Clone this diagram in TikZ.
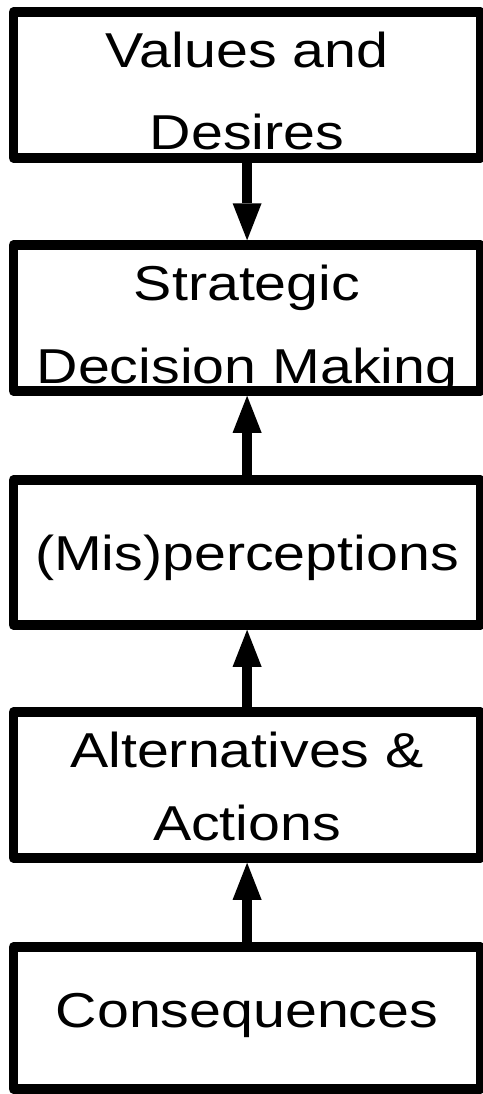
\documentclass[tikz,border=0pt]{standalone}
\usepackage{fontspec}
\setmainfont{Liberation Sans}
\newfontfamily\boxfont[FakeStretch=1.17]{Liberation Sans}
\usetikzlibrary{arrows.meta}
\begin{document}
\begin{tikzpicture}[x=1pt,y=1pt,
  stage/.style={draw=black, line width=9.5pt, line join=round,
    minimum width=467.25pt, inner sep=0pt, outer sep=4.75pt},
  caption/.style={font=\boxfont\fontsize{49}{49}\selectfont,
    anchor=base, inner sep=0pt},
  flow/.style={line width=10pt,
    -{Triangle[width=29pt,length=37pt,line width=0pt]}}
]
\useasboundingbox (0,0) rectangle (482,-1094);

% stage boxes
\node[stage, minimum height=146pt] (values)  at (247.1,-85)    {};
\node[stage, minimum height=146pt] (strat)   at (247.1,-318)   {};
\node[stage, minimum height=145pt] (percept) at (247.1,-552.5) {};
\node[stage, minimum height=146pt] (alt)     at (247.1,-785)   {};
\node[stage, minimum height=142pt] (conseq)  at (247.1,-1018)  {};

% box captions
\node[caption] (values1)  at (247,-68)   {Values and};
\node[caption] (values2)  at (247,-150)  {Desires};
\node[caption] (strat1)   at (247,-300)  {Strategic};
\node[caption] (strat2)   at (247,-383)  {Decision Making};
\node[caption] (percept1) at (247,-570)  {(Mis)perceptions};
\node[caption] (alt1)     at (247,-767)  {Alternatives \&};
\node[caption] (alt2)     at (247,-840)  {Actions};
\node[caption] (conseq1)  at (247,-1027) {Consequences};

% connectors
\draw[flow] (values.south) -- (strat.north);
\draw[flow] (percept.north) -- (strat.south);
\draw[flow] (alt.north) -- (percept.south);
\draw[flow] (conseq.north) -- (alt.south);
\end{tikzpicture}
\end{document}
